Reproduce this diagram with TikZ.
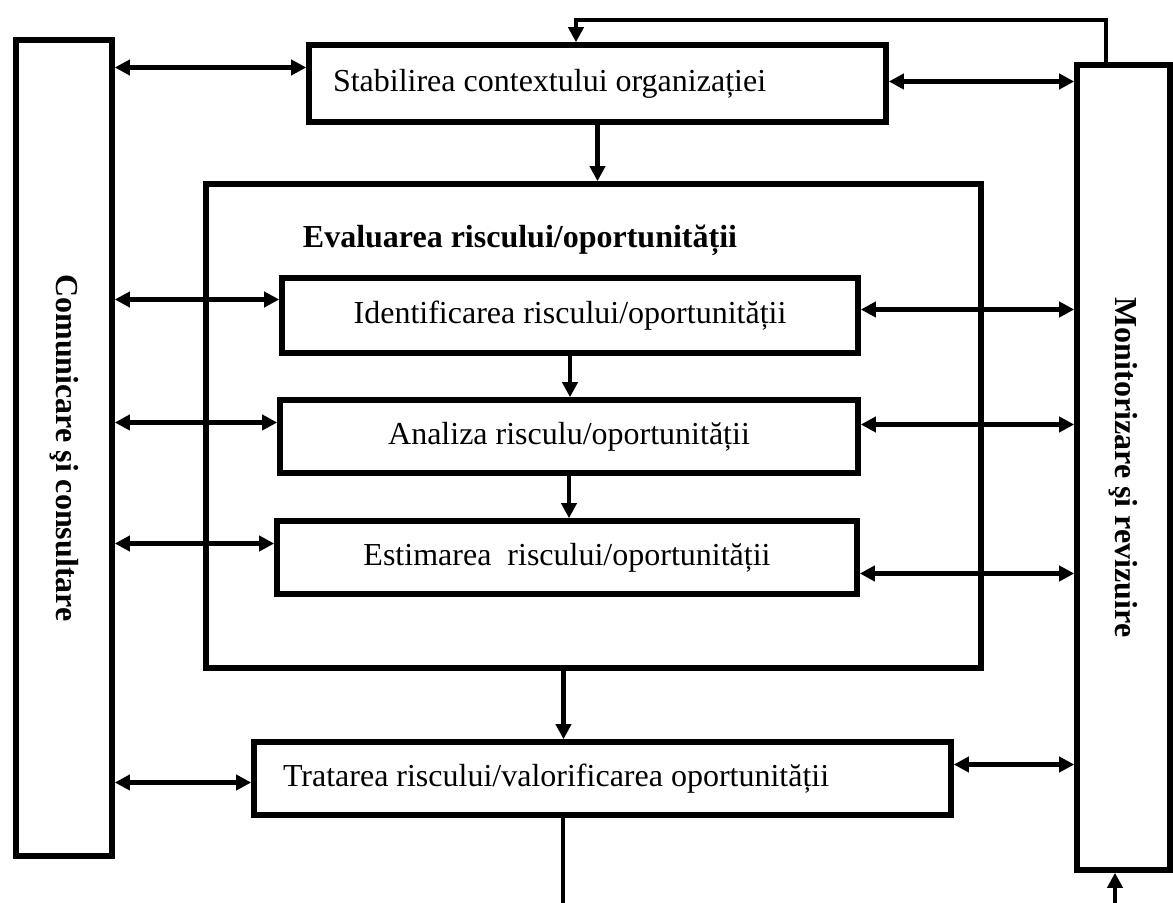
\documentclass[tikz,border=0pt]{standalone}
\usepackage{fontspec}
\setmainfont{Liberation Serif}
\usetikzlibrary{arrows.meta}
\begin{document}
\begin{tikzpicture}[x=0.5pt,y=-0.5pt,
  box/.style={draw,line width=2.8pt,rectangle,inner sep=0pt,font=\fontsize{16}{18}\selectfont},
  bold/.style={font=\fontsize{16}{18}\selectfont\bfseries},
  lnk/.style={line width=2.2pt,-{Triangle[length=7.5pt,width=7.5pt]}},
  lnkboth/.style={lnk,{Triangle[length=7.5pt,width=7.5pt]}-{Triangle[length=7.5pt,width=7.5pt]}}]
\useasboundingbox (0,0) rectangle (1173,903);
% side columns
\node[box,bold,minimum width=48pt,minimum height=408pt] (comm) at (64,448) {\rotatebox{-90}{Comunicare şi consultare}};
\node[box,bold,minimum width=46.5pt,minimum height=402.5pt] (monit) at (1123.5,467.5) {\rotatebox{-90}{Monitorizare şi revizuire}};
% main steps
\node[box,inner xsep=12pt,minimum height=38.5pt] (ctx) at (597.5,83.5) {\hbox to 264.5pt{Stabilirea contextului organizației\hfil}};
\node[box,minimum width=387.5pt,minimum height=242pt] (eval) at (593.5,426) {};
\node[bold] (evaltitle) at (520,240) {Evaluarea riscului/oportunității};
\node[box,minimum width=288pt,minimum height=37.5pt] (ident) at (570,315.5) {Identificarea riscului/oportunității};
\node[box,minimum width=289pt,minimum height=36.5pt] (anal) at (569,436.5) {Analiza risculu/oportunității};
\node[box,minimum width=290pt,minimum height=36.5pt] (estim) at (567,557.5) {Estimarea\ \ riscului/oportunității};
\node[box,inner xsep=14.5pt,minimum height=36.5pt] (trat) at (602.5,778.5) {\hbox to 319.5pt{Tratarea riscului/valorificarea oportunității\hfil}};
% flow
\draw[lnk] (ctx.south) -- (ctx.south |- eval.north);
\draw[lnk] (ident.south) -- (ident.south |- anal.north);
\draw[lnk] (anal.south) -- (anal.south |- estim.north);
\draw[lnk] ([xshift=-15pt]eval.south) -- ([xshift=-15pt]eval.south |- trat.north);
% links to the side columns
\draw[lnkboth] ([yshift=8pt]ctx.west -| comm.east) -- ([yshift=8pt]ctx.west);
\draw[lnkboth] ([yshift=1pt]ctx.east) -- ([yshift=1pt]ctx.east -| monit.west);
\foreach \n/\l/\r in {ident/8/3,anal/7/6,estim/7/-8}{
  \draw[lnkboth] ([yshift=\l pt]\n.west -| comm.east) -- ([yshift=\l pt]\n.west);
  \draw[lnkboth] ([yshift=\r pt]\n.east) -- ([yshift=\r pt]\n.east -| monit.west);
}
\draw[lnkboth] ([yshift=-2pt]trat.west -| comm.east) -- ([yshift=-2pt]trat.west);
\draw[lnkboth] ([yshift=7pt]trat.east) -- ([yshift=7pt]trat.east -| monit.west);
% feedback loops
\draw[lnk] ([xshift=-8.75pt]monit.north) -- ([xshift=-8.75pt]monit.north |- 0,20) -| ([xshift=-10.75pt]ctx.north);
\draw[line width=2.2pt] ([xshift=-19.75pt]trat.south) -- ([xshift=-19.75pt]trat.south |- 0,903);
\draw[lnk] ([xshift=-4.25pt]monit.south |- 0,903) -- ([xshift=-4.25pt]monit.south);
\end{tikzpicture}
\end{document}
